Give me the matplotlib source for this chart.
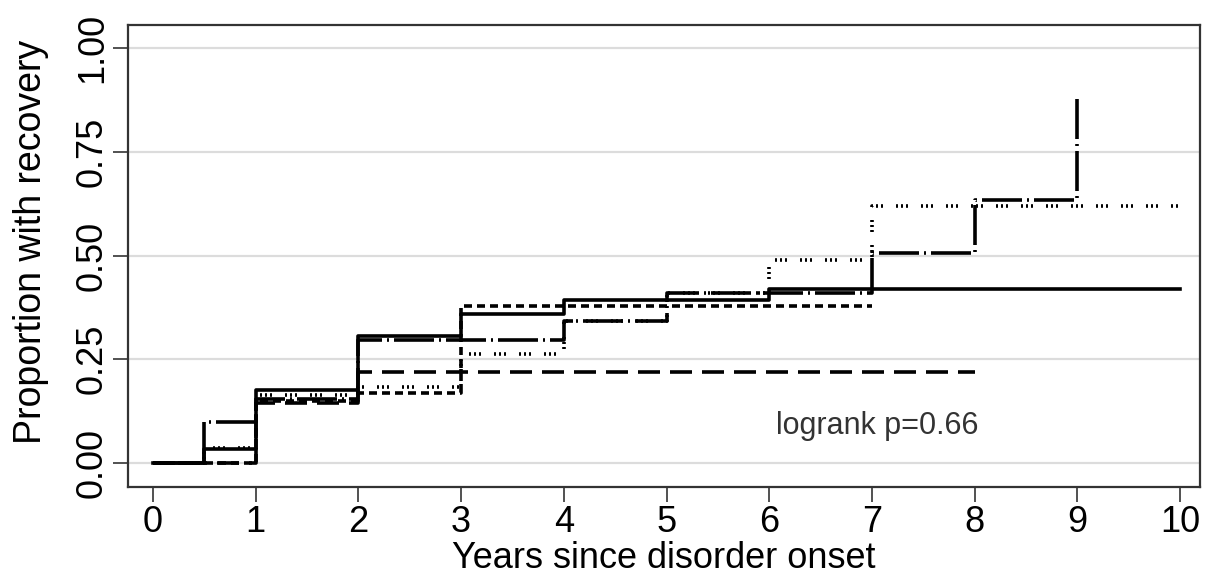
import matplotlib
matplotlib.use("Agg")
import matplotlib.pyplot as plt

plt.rcParams['font.family'] = ['Liberation Sans', 'DejaVu Sans']
plt.rcParams['lines.scale_dashes'] = False

# Kaplan-Meier style step data (time of step, proportion recovered after step)
times_solid = [0, 0.5, 1, 2, 3, 4, 6, 10]
prop_solid = [0, 0.033, 0.176, 0.305, 0.36, 0.392, 0.42, 0.42]

times_longdash = [0, 1, 2, 8]
prop_longdash = [0, 0.145, 0.22, 0.22]

times_shortdash = [0, 1, 2, 3, 7]
prop_shortdash = [0, 0.15, 0.168, 0.378, 0.378]

times_dotted = [0, 0.5, 1, 2, 3, 4, 5, 6, 7, 10]
prop_dotted = [0, 0.035, 0.164, 0.183, 0.263, 0.343, 0.41, 0.49, 0.62, 0.62]

times_dashdot = [0, 0.5, 1, 2, 4, 5, 7, 8, 9]
prop_dashdot = [0, 0.10, 0.155, 0.297, 0.343, 0.41, 0.507, 0.634, 0.882]

x_ticks = [0, 1, 2, 3, 4, 5, 6, 7, 8, 9, 10]
y_ticks = [0, 0.25, 0.5, 0.75, 1.0]
y_tick_labels = ["0.00", "0.25", "0.50", "0.75", "1.00"]
annotation = "logrank p=0.66"

DPI = 100
fig = plt.figure(figsize=(12.17, 5.85), dpi=DPI)
ax = fig.add_axes([128/1217, 1-487/585, (1200-128)/1217, (487-25)/585])

px = 72.0 / DPI  # points per pixel
LW = 2.6

ax.step(times_longdash, prop_longdash, where='post', color='black', lw=LW,
        linestyle=(0, (22*px, 10*px)), dash_capstyle='butt')
ax.step(times_shortdash, prop_shortdash, where='post', color='black', lw=LW,
        linestyle=(0, (8*px, 5*px)), dash_capstyle='butt')
ax.step(times_dotted, prop_dotted, where='post', color='black', lw=LW,
        linestyle=(0, (2*px, 3*px, 2*px, 3*px, 2*px, 13*px)), dash_capstyle='butt')
ax.step(times_dashdot, prop_dashdot, where='post', color='black', lw=LW,
        linestyle=(0, (40*px, 5*px, 2*px, 5*px)), dash_capstyle='butt')
ax.step(times_solid, prop_solid, where='post', color='black', lw=LW)

ax.set_xlim(-25/102.7, 10 + 20/102.7)
ax.set_ylim(-24/415, 1 + 23/415)

for yv in y_ticks:
    ax.axhline(yv, color='#dcdcdc', lw=1.6, zorder=0)

ax.set_xticks(x_ticks)
ax.set_xticklabels([str(v) for v in x_ticks])
ax.set_yticks(y_ticks)
ax.set_yticklabels(y_tick_labels, rotation=90, va='center')

ax.tick_params(axis='both', direction='out', length=11, width=1.2, color='#333333',
               labelsize=26, pad=2)

for s in ax.spines.values():
    s.set_color('#333333')
    s.set_linewidth(1.6)

ax.set_xlabel("Years since disorder onset", fontsize=26, labelpad=1)
ax.set_ylabel("Proportion with recovery", fontsize=27)
ax.yaxis.set_label_coords(-0.074, 0.53)

ax.text(7.05, 0.09, annotation, fontsize=22, color='#333333', ha='center', va='center')

fig.savefig("out.png", dpi=DPI)
